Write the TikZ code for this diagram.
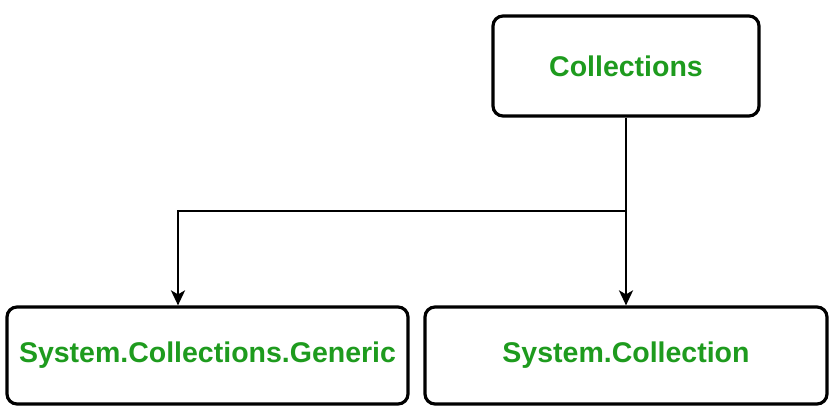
\documentclass[tikz,border=0pt]{standalone}
\usepackage{fontspec}
\setmainfont{Liberation Sans}
\usetikzlibrary{arrows.meta}
\definecolor{txtgreen}{RGB}{30,155,30}
\tikzset{
  box/.style={draw=black, line width=3.2bp, rounded corners=10bp, fill=white,
    font=\fontsize{28.5bp}{34bp}\selectfont\bfseries, text=txtgreen, inner sep=0pt},
  conn/.style={line width=2.4bp, draw=black},
  arr/.style={conn, -{Stealth[length=15bp,width=14bp,inset=4bp]}}
}
\begin{document}
\begin{tikzpicture}[x=1bp,y=-1bp]
\useasboundingbox (0,0) rectangle (838,411);
\node[box, minimum width=266bp, minimum height=100bp] (top) at (626,66) {Collections};
\node[box, minimum width=401bp, minimum height=97bp] (left) at (207.5,355.5) {System.Collections.Generic};
\node[box, minimum width=402bp, minimum height=97bp] (right) at (626,355.5) {System.Collection};
\coordinate (j) at (626,211);
\draw[arr] (top.south) -- (right.north);
\draw[arr] (j) -| ([xshift=-29.5bp]left.north);
\end{tikzpicture}
\end{document}
